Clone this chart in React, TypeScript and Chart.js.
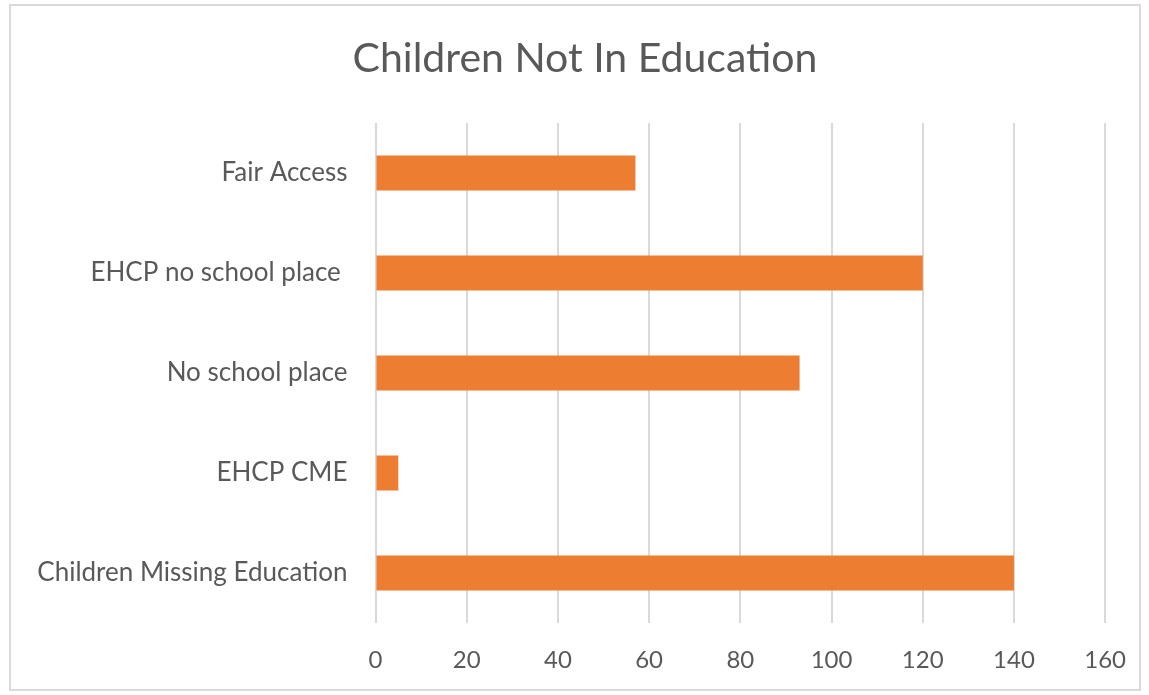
import React, { useEffect, useRef } from "react";
import { Chart, registerables } from "chart.js";

Chart.register(...registerables);

const categories = [
  "Fair Access",
  "EHCP no school place ",
  "No school place",
  "EHCP CME",
  "Children Missing Education",
];
const values = [57, 120, 93, 5, 140];
const xTicks = [0, 20, 40, 60, 80, 100, 120, 140, 160];
const titleText = "Children Not In Education";

const FONT = "Lato, 'Open Sans', sans-serif";
const TEXT = "#595959";

export default function App() {
  const ref = useRef<HTMLCanvasElement | null>(null);
  useEffect(() => {
    if (!ref.current) return;
    const chart = new Chart(ref.current, {
      type: "bar",
      data: {
        labels: categories,
        datasets: [
          {
            data: values,
            backgroundColor: "#ED7D31",
            borderWidth: 0,
            barPercentage: 0.35,
            categoryPercentage: 1,
          },
        ],
      },
      options: {
        indexAxis: "y",
        animation: false,
        responsive: false,
        layout: { padding: { left: 21, right: 0, top: 0, bottom: 0 } },
        plugins: {
          legend: { display: false },
          tooltip: { enabled: false },
          title: {
            display: true,
            text: titleText,
            color: TEXT,
            font: { family: FONT, size: 41, weight: "normal" },
            padding: { top: 34, bottom: 39.8 },
          },
        },
        scales: {
          x: {
            min: xTicks[0],
            max: xTicks[xTicks.length - 1],
            afterBuildTicks: (axis: any) => {
              axis.ticks = xTicks.map((v) => ({ value: v }));
            },
            afterFit: (axis: any) => {
              axis.height = 72;
            },
            ticks: {
              color: TEXT,
              font: { family: FONT, size: 24 },
              padding: 23,
              maxRotation: 0,
            },
            grid: { color: "#d9d9d9", lineWidth: 2, drawTicks: false },
            border: { display: false },
          },
          y: {
            afterFit: (axis: any) => {
              axis.width = 354.5;
            },
            ticks: {
              color: TEXT,
              font: { family: FONT, size: 26 },
              padding: 28,
            },
            grid: { display: false, drawTicks: false },
            border: { display: false },
          },
          yRight: {
            type: "category",
            axis: "y",
            position: "right",
            display: true,
            afterFit: (axis: any) => {
              axis.width = 43;
            },
            ticks: { display: false },
            grid: { display: false, drawTicks: false },
            border: { display: false },
          },
        },
      },
    });
    return () => chart.destroy();
  }, []);

  return (
    <div style={{ position: "fixed", left: 0, top: 0, width: 1149, height: 695, background: "#fff" }}>
      <div
        style={{
          position: "absolute",
          left: 9,
          top: 4,
          width: 1132,
          height: 687,
          border: "2px solid #d9d9d9",
          boxSizing: "border-box",
        }}
      />
      <canvas ref={ref} width={1149} height={695} style={{ position: "absolute", left: 0, top: 0 }} />
    </div>
  );
}
